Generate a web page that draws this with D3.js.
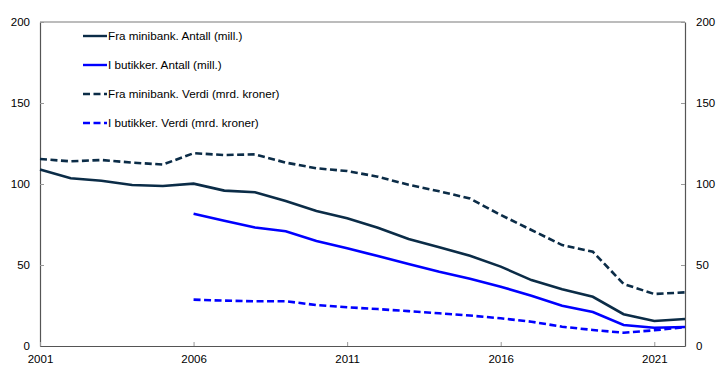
<!DOCTYPE html>
<html>
<head>
<meta charset="utf-8">
<script src="https://cdn.jsdelivr.net/npm/d3@7"></script>
<style>
  body { margin: 0; background: #fff; }
  svg text { font-family: Arial, "Liberation Sans", sans-serif; fill: #000; }
</style>
</head>
<body>
<svg width="722" height="378"></svg>
<script>
const years = [2001, 2002, 2003, 2004, 2005, 2006, 2007, 2008, 2009, 2010, 2011,
               2012, 2013, 2014, 2015, 2016, 2017, 2018, 2019, 2020, 2021, 2022];

const minibankAntall = [109, 103.5, 102, 99.4, 98.8, 100.2, 95.9, 94.9, 89.5, 83.3, 78.8,
                        73, 66, 60.9, 55.7, 49, 40.7, 35, 30.4, 19.6, 15.4, 16.7];
const butikkAntall = [null, null, null, null, null, 81.7, 77.3, 73.1, 70.8, 64.8, 60.3,
                      55.5, 50.6, 45.8, 41.5, 36.6, 31, 24.9, 21, 13, 11.3, 11.7];
const minibankVerdi = [115.4, 114, 114.8, 113.2, 112, 119, 117.9, 118.3, 113.2, 109.7, 108,
                       104.5, 99.5, 95.5, 91, 80.9, 71.6, 62.3, 58.2, 38.3, 32.1, 33.1];
const butikkVerdi = [null, null, null, null, null, 28.6, 28, 27.6, 27.6, 25.3, 23.9,
                     22.8, 21.5, 20.2, 18.8, 17.1, 15, 11.9, 9.9, 8.2, 9.7, 11.7];

const xTicks = [2001, 2006, 2011, 2016, 2021];
const yTicks = [0, 50, 100, 150, 200];

const seriesNames = [
  "Fra minibank. Antall (mill.)",
  "I butikker. Antall (mill.)",
  "Fra minibank. Verdi (mrd. kroner)",
  "I butikker. Verdi (mrd. kroner)"
];

const navy = "#0b2c47", blue = "#0000ff";
const series = [
  {name: seriesNames[0], values: minibankAntall, color: navy, dash: null},
  {name: seriesNames[1], values: butikkAntall, color: blue, dash: null},
  {name: seriesNames[2], values: minibankVerdi, color: navy, dash: "7,3.5"},
  {name: seriesNames[3], values: butikkVerdi, color: blue, dash: "7,3.5"}
];

const svg = d3.select("svg"),
    margin = {top: 22, right: 37, bottom: 32, left: 40},
    width = +svg.attr("width") - margin.left - margin.right,
    height = +svg.attr("height") - margin.top - margin.bottom;

const g = svg.append("g").attr("transform", `translate(${margin.left},${margin.top})`);

const x = d3.scaleLinear().domain([2001, 2022]).range([0, width]);
const y = d3.scaleLinear().domain([0, 200]).range([height, 0]);

// top frame line
g.append("line")
    .attr("x1", 0).attr("x2", width)
    .attr("y1", 0).attr("y2", 0)
    .attr("stroke", "#a6a6a6").attr("stroke-width", 1.3);

function styleAxis(sel) {
  sel.select(".domain").attr("stroke", "#555").attr("stroke-width", 1.2);
  sel.selectAll(".tick line").attr("stroke", "#999").attr("stroke-width", 1);
  sel.selectAll(".tick text").attr("font-size", "11.5px").attr("fill", "#000");
}

g.append("g")
    .call(d3.axisLeft(y).tickValues(yTicks).tickSize(-4).tickSizeOuter(0).tickPadding(10))
    .call(styleAxis);

g.append("g")
    .attr("transform", `translate(${width},0)`)
    .call(d3.axisRight(y).tickValues(yTicks).tickSize(-4).tickSizeOuter(0).tickPadding(11))
    .call(styleAxis);

g.append("g")
    .attr("transform", `translate(0,${height})`)
    .call(d3.axisBottom(x).tickValues(xTicks).tickFormat(d3.format("d"))
      .tickSize(-4).tickSizeOuter(0).tickPadding(9))
    .call(styleAxis);

const line = d3.line()
    .defined(d => d.v != null)
    .x(d => x(d.year))
    .y(d => y(d.v));

series.forEach(s => {
  g.append("path")
      .datum(years.map((yr, i) => ({year: yr, v: s.values[i]})))
      .attr("fill", "none")
      .attr("stroke", s.color)
      .attr("stroke-width", 2.6)
      .attr("stroke-dasharray", s.dash)
      .attr("d", line);
});

// legend
const legend = svg.append("g").attr("transform", "translate(83,36)");
series.forEach((s, i) => {
  const row = legend.append("g").attr("transform", `translate(0,${i * 29})`);
  row.append("line")
      .attr("x1", 0).attr("x2", 24)
      .attr("stroke", s.color)
      .attr("stroke-width", 2.4)
      .attr("stroke-dasharray", s.dash);
  row.append("text")
      .attr("x", 25)
      .attr("dy", "0.35em")
      .attr("font-size", "11.7px")
      .text(s.name);
});
</script>
</body>
</html>
